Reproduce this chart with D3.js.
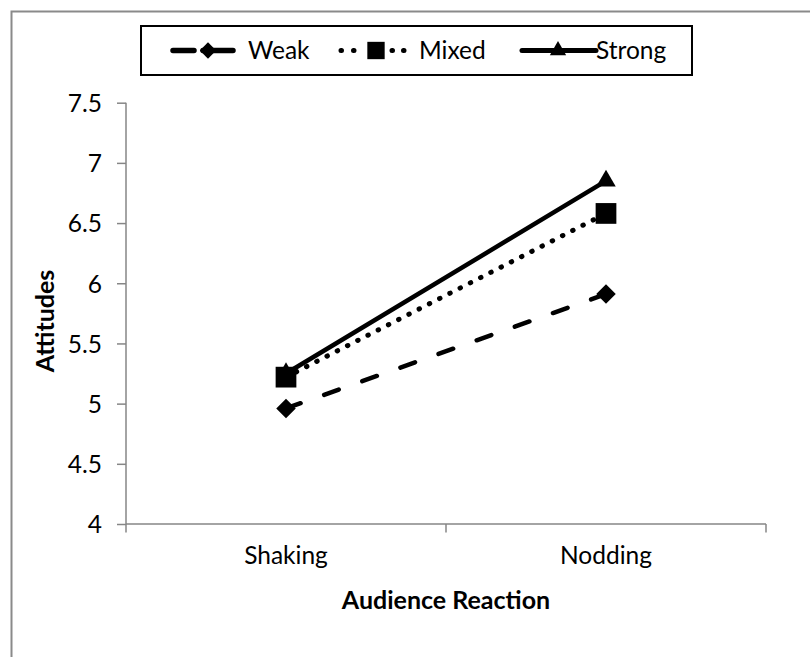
<!DOCTYPE html>
<html>
<head>
<meta charset="utf-8">
<script src="https://cdn.jsdelivr.net/npm/d3@7"></script>
<style>
  html, body { margin: 0; padding: 0; background: #fff; }
  svg { display: block; }
  svg text { font-family: Lato, sans-serif; }
</style>
</head>
<body>
<svg id="chart" width="810" height="657"></svg>
<script>
// Attitude ratings by audience reaction, one series per argument strength
const categories = ["Shaking", "Nodding"];
const seriesNames = ["Weak", "Mixed", "Strong"];
const weakValues = [4.96, 5.91];
const mixedValues = [5.22, 6.58];
const strongValues = [5.25, 6.85];
const yTicks = [4, 4.5, 5, 5.5, 6, 6.5, 7, 7.5];

const series = [
  { name: seriesNames[0], values: weakValues, dash: "15.5,25", width: 4.5, marker: "diamond" },
  { name: seriesNames[1], values: mixedValues, dash: "0.5,11", width: 5, marker: "square" },
  { name: seriesNames[2], values: strongValues, dash: null, width: 4.5, marker: "triangle" }
];

const svg = d3.select("#chart");
const axisColor = "#868686";
const labelSize = "24.5px";
const titleSize = "25px";

// outer chart-area frame
svg.append("rect")
  .attr("x", 11.5).attr("y", 11.5)
  .attr("width", 900).attr("height", 800)
  .attr("fill", "none").attr("stroke", "#8a8a8a").attr("stroke-width", 2);

const plot = { left: 126, right: 766, top: 102.7, bottom: 524 };

const x = d3.scaleBand().domain(categories).range([plot.left, plot.right]).padding(0);
const y = d3.scaleLinear().domain([4, 7.5]).range([plot.bottom, plot.top]);
const cx = c => x(c) + x.bandwidth() / 2;

// y axis
const yAxis = svg.append("g")
  .attr("transform", `translate(${plot.left},0)`)
  .call(d3.axisLeft(y).tickValues(yTicks).tickSize(9).tickPadding(15)
    .tickFormat(d => (d % 1 ? d.toFixed(1) : String(d))))
  .attr("font-family", null).attr("font-size", null);
yAxis.select(".domain").attr("stroke", axisColor).attr("stroke-width", 1.5)
  .attr("d", `M0,${plot.top}V${plot.bottom + 8.5}`);
yAxis.selectAll(".tick line").attr("stroke", axisColor).attr("stroke-width", 1.5);
yAxis.selectAll(".tick text").attr("fill", "#000").style("font-size", labelSize).attr("dy", "0.36em");

// x axis: line, boundary ticks, centered category labels
const xAxis = svg.append("g")
  .attr("transform", `translate(0,${plot.bottom})`)
  .call(d3.axisBottom(x).tickSize(0).tickPadding(23))
  .attr("font-family", null).attr("font-size", null);
xAxis.select(".domain").attr("stroke", axisColor).attr("stroke-width", 1.5)
  .attr("d", `M${plot.left},0H${plot.right}`);
xAxis.selectAll(".tick text").attr("fill", "#000").style("font-size", labelSize);
const bounds = categories.map(c => x(c)).concat([x(categories[categories.length - 1]) + x.bandwidth()]);
xAxis.selectAll(".bound").data(bounds.slice(1)).enter().append("line")
  .attr("x1", d => d).attr("x2", d => d).attr("y1", 0).attr("y2", 8.5)
  .attr("stroke", axisColor).attr("stroke-width", 1.5);

// axis titles
svg.append("text")
  .attr("x", 446).attr("y", 609)
  .attr("text-anchor", "middle").style("font-size", titleSize).style("font-weight", "bold")
  .text("Audience Reaction");
svg.append("text")
  .attr("transform", "translate(54,321) rotate(-90)")
  .attr("text-anchor", "middle").style("font-size", titleSize).style("font-weight", "bold")
  .text("Attitudes");

function markerPath(type, scale) {
  if (type === "diamond") return d3.symbol(d3.symbolSquare, 190 * scale)();
  if (type === "square") return d3.symbol(d3.symbolSquare, 430 * scale)();
  return d3.symbol(d3.symbolTriangle, 165 * scale)();
}

const line = d3.line().x(d => cx(d.c)).y(d => y(d.v));

series.forEach(s => {
  const pts = categories.map((c, i) => ({ c, v: s.values[i] }));
  svg.append("path").datum(pts)
    .attr("d", line).attr("fill", "none").attr("stroke", "#000")
    .attr("stroke-width", s.width).attr("stroke-linecap", "round")
    .attr("stroke-dasharray", s.dash);
});
series.forEach(s => {
  const pts = categories.map((c, i) => ({ c, v: s.values[i] }));
  svg.selectAll(null).data(pts).enter().append("path")
    .attr("d", markerPath(s.marker, 1))
    .attr("transform", d => `translate(${cx(d.c)},${y(d.v)})` + (s.marker === "diamond" ? " rotate(45)" : ""))
    .attr("fill", "#000");
});

// legend
const legend = svg.append("g");
legend.append("rect")
  .attr("x", 141).attr("y", 26).attr("width", 551).attr("height", 49)
  .attr("fill", "#fff").attr("stroke", "#000").attr("stroke-width", 2);
const legendItems = [
  { x0: 173, x1: 233, mx: 208, tx: 248, dash: "21,9,60", width: 5.5 },
  { x0: 341, x1: 404, mx: 376, tx: 419, dash: "0.5,12,0.5,38,0.5,11,0.5,100", width: 5 },
  { x0: 522, x1: 596, mx: 558, tx: 596, dash: null, width: 5 }
];
series.forEach((s, i) => {
  const it = legendItems[i];
  const ly = 50.5;
  legend.append("line")
    .attr("x1", it.x0).attr("x2", it.x1).attr("y1", ly).attr("y2", ly)
    .attr("stroke", "#000").attr("stroke-width", it.width).attr("stroke-linecap", "round")
    .attr("stroke-dasharray", it.dash);
  legend.append("path")
    .attr("d", markerPath(s.marker, 0.7))
    .attr("transform", `translate(${it.mx},${ly})` + (s.marker === "diamond" ? " rotate(45)" : ""))
    .attr("fill", "#000");
  legend.append("text")
    .attr("x", it.tx).attr("y", ly).attr("dy", "0.36em")
    .style("font-size", labelSize).text(s.name);
});
</script>
</body>
</html>
